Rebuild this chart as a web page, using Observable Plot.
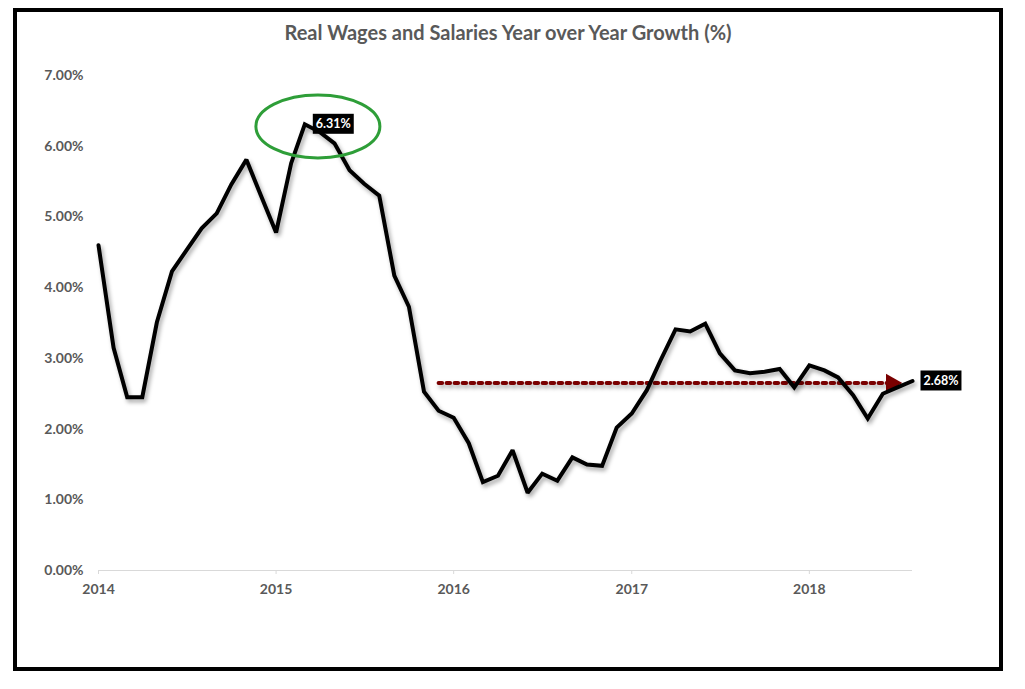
<!DOCTYPE html>
<html>
<head>
<meta charset="utf-8">
<script src="https://cdn.jsdelivr.net/npm/d3@7"></script>
<script src="https://cdn.jsdelivr.net/npm/@observablehq/plot@0.6"></script>
<style>
  html, body { margin: 0; padding: 0; background: #fff; }
  body { width: 1025px; height: 689px; position: relative; overflow: hidden; font-family: Lato, "Open Sans", sans-serif; }
  #frame { position: absolute; left: 13px; top: 8px; width: 982px; height: 655px; border: 4px solid #000; pointer-events: none; }
  #title { position: absolute; left: 13px; width: 990px; top: 20px; text-align: center; font-weight: bold; font-size: 20px; color: #595959; }
  #chart { position: absolute; left: 0; top: 0; }
  g[aria-label="line"] path { filter: drop-shadow(2px 3px 2px rgba(0,0,0,0.35)); }
</style>
</head>
<body>
<div id="chart"></div>
<div id="title">Real Wages and Salaries Year over Year Growth (%)</div>
<div id="frame"></div>
<script>
// Monthly, Jan 2014 – Aug 2018
const startMonth = "2014-01-01";
const endMonth = "2018-08-01";
const growth = [
  4.60, 3.15, 2.45, 2.45, 3.51, 4.23, 4.53, 4.84, 5.05, 5.46, 5.81, 5.30,
  4.78, 5.76, 6.31, 6.20, 6.04, 5.66, 5.47, 5.30, 4.17, 3.73, 2.53, 2.26,
  2.16, 1.80, 1.25, 1.34, 1.70, 1.10, 1.37, 1.27, 1.60, 1.50, 1.48, 2.02,
  2.22, 2.55, 2.97, 3.41, 3.38, 3.49, 3.07, 2.83, 2.79, 2.81, 2.85, 2.59,
  2.90, 2.83, 2.73, 2.48, 2.15, 2.50, 2.59, 2.68
];
const yTicks = [0, 1, 2, 3, 4, 5, 6, 7];
const xTickYears = ["2014-01-01", "2015-01-01", "2016-01-01", "2017-01-01", "2018-01-01"];
// annotations
const peakLabel = { date: "2015-03-01", value: 6.31, text: "6.31%" };
const lastLabel = { date: "2018-08-01", value: 2.68, text: "2.68%" };
const refLine = { from: "2015-12-01", to: "2018-07-01", value: 2.65 };
const circleCenter = { date: "2015-04-01", value: 6.28 };

const months = d3.utcMonth.range(new Date(startMonth), d3.utcMonth.offset(new Date(endMonth), 1));
const data = months.map((d, i) => ({ date: d, value: growth[i] }));

const ellipseSymbol = {
  draw(ctx) {
    const rx = 62, ry = 31.5, k = 0.5523;
    ctx.moveTo(rx, 0);
    ctx.bezierCurveTo(rx, ry * k, rx * k, ry, 0, ry);
    ctx.bezierCurveTo(-rx * k, ry, -rx, ry * k, -rx, 0);
    ctx.bezierCurveTo(-rx, -ry * k, -rx * k, -ry, 0, -ry);
    ctx.bezierCurveTo(rx * k, -ry, rx, -ry * k, rx, 0);
    ctx.closePath();
  }
};

const refData = [
  { date: new Date(refLine.from), value: refLine.value },
  { date: new Date(refLine.to), value: refLine.value }
];
const labels = [peakLabel, lastLabel].map(d => ({ date: new Date(d.date), value: d.value, text: d.text }));

const plot = Plot.plot({
  width: 1025,
  height: 689,
  marginLeft: 98,
  marginRight: 113,
  marginTop: 75,
  marginBottom: 119,
  style: { fontFamily: "Lato, 'Open Sans', sans-serif", background: "transparent" },
  x: { type: "utc", domain: [new Date(startMonth), new Date(endMonth)] },
  y: { domain: [0, 7] },
  marks: [
    Plot.ruleY([0], { stroke: "#d9d9d9", strokeWidth: 1.2 }),
    Plot.axisY({ ticks: yTicks, tickSize: 0, tickPadding: 15, tickFormat: d => d.toFixed(2) + "%", fontSize: 14, fontWeight: "bold", fill: "#595959", label: null }),
    Plot.axisX({ ticks: xTickYears.map(d => new Date(d)), tickFormat: d3.utcFormat("%Y"), tickSize: 4, tickPadding: 10, stroke: "#d9d9d9", fontSize: 14, fontWeight: "bold", fill: "#595959", label: null }),
    Plot.line(refData, { x: "date", y: "value", stroke: "#7a0000", strokeWidth: 4, strokeDasharray: "3.5,4.5" }),
    Plot.dot([refData[1]], { x: "date", y: "value", symbol: "triangle", r: 7, rotate: 90, fill: "#7a0000", stroke: "none", dx: -6 }),
    Plot.line(data, { x: "date", y: "value", stroke: "#000", strokeWidth: 4, strokeLinejoin: "miter", strokeMiterlimit: 2 }),
    Plot.dot([circleCenter], { x: d => new Date(d.date), y: "value", symbol: ellipseSymbol, r: 10, fill: "none", stroke: "#2e9e38", strokeWidth: 3, dx: -2 }),
    Plot.text(labels, { x: "date", y: "value", text: "text", textAnchor: "start", dx: 11, fill: "#fff", fontWeight: "bold", fontSize: 12.5 })
  ]
});
document.getElementById("chart").appendChild(plot);

// black boxes behind value labels
d3.select(plot).selectAll('g[aria-label="text"] text').each(function () {
  const b = this.getBBox();
  const rect = document.createElementNS("http://www.w3.org/2000/svg", "rect");
  rect.setAttribute("x", b.x - 3);
  rect.setAttribute("y", b.y - 2.5);
  rect.setAttribute("width", b.width + 6);
  rect.setAttribute("height", b.height + 5);
  rect.setAttribute("fill", "#000");
  const tr = this.getAttribute("transform");
  if (tr) rect.setAttribute("transform", tr);
  this.parentNode.insertBefore(rect, this);
});
</script>
</body>
</html>
